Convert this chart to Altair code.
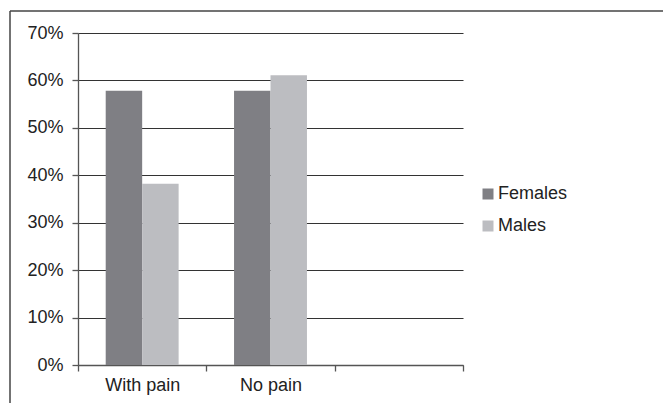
import altair as alt
import pandas as pd

# Share of respondents by pain status and sex
categories = ["With pain", "No pain", " "]
groups = ["Females", "Males"]
females = [0.578, 0.578]
males = [0.382, 0.611]
y_ticks = [0, 0.1, 0.2, 0.3, 0.4, 0.5, 0.6, 0.7]
colors = ["#7f7f84", "#bcbdc1"]

rows = []
for i, cat in enumerate(categories[:2]):
    rows.append({"status": cat, "sex": groups[0], "share": females[i]})
    rows.append({"status": cat, "sex": groups[1], "share": males[i]})
df = pd.DataFrame(rows)

FONT = "Liberation Sans"
TEXT = "#222222"
FS = 18

bars = alt.Chart(df).mark_bar(opacity=1).encode(
    x=alt.X(
        "status:N",
        scale=alt.Scale(domain=categories, paddingInner=0, paddingOuter=0),
        sort=categories,
        axis=alt.Axis(
            title=None, labelAngle=0, tickBand="extent", tickSize=6,
            labelPadding=5, domainColor="#555555", tickColor="#555555",
            domainWidth=1.3, tickWidth=1.3, labelFontSize=FS,
            labelFont=FONT, labelColor=TEXT, grid=False,
        ),
    ),
    xOffset=alt.XOffset(
        "sex:N", sort=groups,
        scale=alt.Scale(domain=groups, paddingInner=0, paddingOuter=0.76),
    ),
    y=alt.Y(
        "share:Q",
        scale=alt.Scale(domain=[0, 0.7], nice=False),
        axis=alt.Axis(
            title=None, format=".0%", values=y_ticks, tickSize=6,
            labelPadding=9, domainColor="#555555", tickColor="#555555",
            domainWidth=1.3, tickWidth=1.3, gridColor="#333333",
            gridWidth=1.2, labelFontSize=FS, labelFont=FONT, labelColor=TEXT,
        ),
    ),
    color=alt.Color(
        "sex:N",
        scale=alt.Scale(domain=groups, range=colors),
        legend=alt.Legend(
            title=None, orient="none", legendX=401, legendY=152,
            symbolType="square", symbolSize=121, symbolStrokeWidth=0,
            labelFontSize=FS, labelFont=FONT, labelColor=TEXT,
            labelOffset=1, rowPadding=14, padding=0,
        ),
    ),
)

# Outer frame lines (top and left edges)
frame_df = pd.DataFrame({"k": [0]})
frame_top = alt.Chart(frame_df).mark_rule(color="#444444", strokeWidth=1.5).encode(
    x=alt.value(-68), x2=alt.value(640), y=alt.value(-22)
)
frame_left = alt.Chart(frame_df).mark_rule(color="#444444", strokeWidth=1.5).encode(
    x=alt.value(-68), y=alt.value(-22), y2=alt.value(400)
)

chart = alt.layer(bars, frame_top, frame_left).properties(
    width=385,
    height=332,
    autosize=alt.AutoSizeParams(type="none"),
    padding={"left": 78, "top": 33, "right": 200, "bottom": 38},
    background="white",
).configure_view(stroke=None)

chart.save("out.html", embed_options={"renderer": "svg", "actions": False})
